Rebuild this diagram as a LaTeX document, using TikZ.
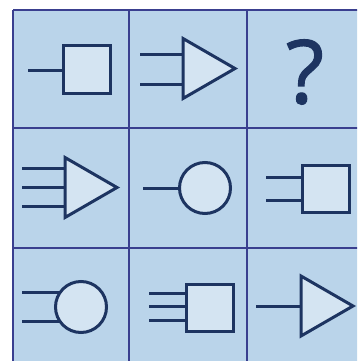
\documentclass[tikz,border=0pt]{standalone}
\usepackage{fontspec}
\newfontfamily\askfont[FakeBold=1.3]{Open Sans}
\usetikzlibrary{shapes.geometric}
\definecolor{cellblue}{HTML}{BAD4EA}
\definecolor{gridline}{HTML}{3A3F8F}
\definecolor{shapeline}{HTML}{1D3461}
\definecolor{shapefill}{HTML}{D4E4F2}

\begin{document}
\begin{tikzpicture}[x=1pt, y=-1pt, line join=miter,
    box/.style={draw=shapeline, fill=shapefill, line width=3pt, minimum size=47pt, inner sep=0pt, outer sep=0pt},
    ring/.style={circle, draw=shapeline, fill=shapefill, line width=3pt, minimum size=51pt, inner sep=0pt, outer sep=0pt},
    tri/.style={isosceles triangle, isosceles triangle stretches, draw=shapeline, fill=shapefill, line width=3pt, minimum width=60pt, minimum height=52pt, inner sep=0pt, outer sep=0pt, anchor=west},
    wire/.style={draw=shapeline, line width=3pt}]
        \clip (0,0) rectangle (357,361);
        \fill[white] (0,0) rectangle (357,361);
        \fill[cellblue] (13,10) rectangle (370,370);
        \foreach \x in {13,129,247} \draw[gridline, line width=1.4pt] (\x,10) -- (\x,370);
        \foreach \y in {10,128,248} \draw[gridline, line width=1.4pt] (13,\y) -- (370,\y);

        \node[box] (box1) at (87,69.5) {};
        \coordinate (in1) at (28,70);
        \draw[wire] (in1) -- (in1 -| box1.west);

        \node[tri] (tri1) at (183,68.5) {};
        \coordinate (in2a) at (140,55);
        \coordinate (in2b) at (140,84);
        \draw[wire] (in2a) -- (in2a -| tri1.west);
        \draw[wire] (in2b) -- (in2b -| tri1.west);

        \node[text=shapeline, font=\askfont\fontsize{88}{88}\selectfont] (ask) at (305,72) {?};

        \node[tri] (tri2) at (65,187.5) {};
        \coordinate (in4a) at (22,168);
        \coordinate (in4b) at (22,187.5);
        \coordinate (in4c) at (22,206);
        \draw[wire] (in4a) -- (in4a -| tri2.west);
        \draw[wire] (in4b) -- (in4b -| tri2.west);
        \draw[wire] (in4c) -- (in4c -| tri2.west);

        \node[ring] (ring1) at (205,188) {};
        \coordinate (in5) at (143,188);
        \draw[wire] (in5) -- (ring1.west);

        \node[box] (box2) at (325.5,188.5) {};
        \coordinate (in6a) at (266,177);
        \coordinate (in6b) at (266,200);
        \draw[wire] (in6a) -- (in6a -| box2.west);
        \draw[wire] (in6b) -- (in6b -| box2.west);

        \node[ring] (ring2) at (81,307) {};
        \coordinate (in7) at (22,307);
        \draw[wire] (ring2.146) -- (ring2.146 -| in7);
        \draw[wire] (ring2.214) -- (ring2.214 -| in7);

        \node[box] (box3) at (209.5,307.5) {};
        \coordinate (in8a) at (149,293);
        \coordinate (in8b) at (149,306.5);
        \coordinate (in8c) at (149,320);
        \draw[wire] (in8a) -- (in8a -| box3.west);
        \draw[wire] (in8b) -- (in8b -| box3.west);
        \draw[wire] (in8c) -- (in8c -| box3.west);

        \node[tri] (tri3) at (301,306) {};
        \coordinate (in9) at (256,306);
        \draw[wire] (in9) -- (tri3.west);
    \end{tikzpicture}
\end{document}
